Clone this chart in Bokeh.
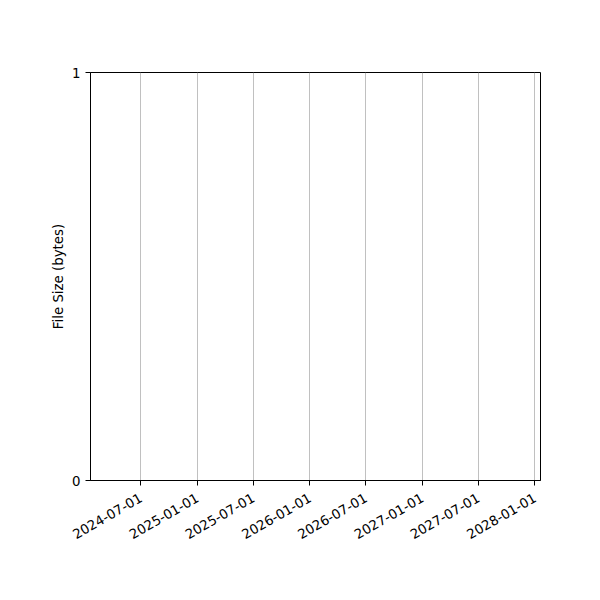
import datetime as dt
from bokeh.plotting import figure
from bokeh.models import Range1d, FixedTicker, ColumnDataSource
from bokeh.embed import file_html
from bokeh.resources import INLINE
import math

# Data (the reference chart is empty)
dates = []
sizes = []
tick_labels = ["2024-07-01", "2025-01-01", "2025-07-01", "2026-01-01",
               "2026-07-01", "2027-01-01", "2027-07-01", "2028-01-01"]
y_ticks = [0, 1]
x_start = "2024-01-20"
x_end = "2028-01-19"

def ms(s):
    d = dt.datetime.strptime(s, "%Y-%m-%d").replace(tzinfo=dt.timezone.utc)
    return d.timestamp() * 1000.0

tick_ms = [ms(s) for s in tick_labels]

p = figure(width=584, height=584, x_axis_type="datetime",
           x_range=Range1d(ms(x_start), ms(x_end)), y_range=Range1d(0, 1),
           output_backend="svg", toolbar_location=None,
           min_border_left=90, min_border_right=44, min_border_top=72, min_border_bottom=104)
p.background_fill_color = "white"
p.border_fill_color = "white"
p.outline_line_color = "black"
p.outline_line_width = 1

src = ColumnDataSource(dict(x=dates, y=sizes))
p.line("x", "y", source=src, line_color="#1f77b4")

FONT = "DejaVu Sans"
for ax in (p.xaxis[0], p.yaxis[0]):
    ax.axis_line_color = "black"
    ax.major_tick_line_color = "black"
    ax.major_tick_out = 5
    ax.major_tick_in = 0
    ax.minor_tick_line_color = None
    ax.major_label_text_font = FONT
    ax.major_label_text_font_size = "13.33px"
    ax.major_label_text_color = "black"
    ax.axis_label_text_font = FONT
    ax.axis_label_text_font_size = "13.33px"
    ax.axis_label_text_font_style = "normal"
    ax.axis_label_text_color = "black"

p.xaxis.ticker = FixedTicker(ticks=tick_ms)
p.xaxis.major_label_overrides = {t: l for t, l in zip(tick_ms, tick_labels)}
p.xaxis.major_label_orientation = math.pi / 6
p.xaxis.major_label_standoff = 11
p.yaxis.ticker = FixedTicker(ticks=y_ticks)
p.yaxis.axis_label = "File Size (bytes)"
p.yaxis.major_label_standoff = 5
p.yaxis.axis_label_standoff = 3

p.xgrid.ticker = FixedTicker(ticks=tick_ms)
p.xgrid.grid_line_color = "#b0b0b0"
p.xgrid.grid_line_width = 0.8
p.ygrid.grid_line_color = None

open("out.html", "w").write(file_html(p, INLINE))
